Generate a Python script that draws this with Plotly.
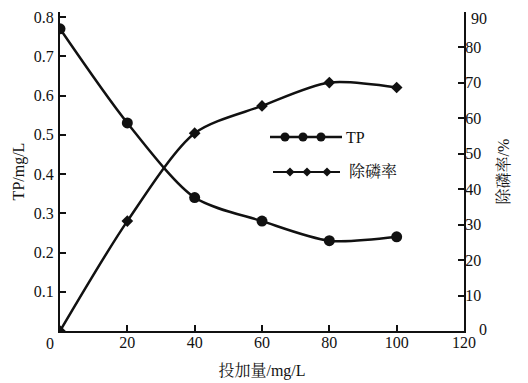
import plotly.graph_objects as go

# ---- data ----
dose = [0, 20, 40, 60, 80, 100]               # 投加量 mg/L
tp = [0.77, 0.53, 0.34, 0.28, 0.23, 0.24]      # TP mg/L
removal = [0, 31.0, 55.8, 63.5, 70.1, 68.7]    # 除磷率 %
x_ticks = [20, 40, 60, 80, 100, 120]
y1_ticks = [0.1, 0.2, 0.3, 0.4, 0.5, 0.6, 0.7, 0.8]
y2_ticks = [0, 10, 20, 30, 40, 50, 60, 70, 80, 90]
x_title = "投加量/mg/L"
y1_title = "TP/mg/L"
y2_title = "除磷率/%"
legend_names = ["TP", "除磷率"]

FONT = "Liberation Serif"
FONT_MIX = "Liberation Serif, Noto Serif CJK SC"
INK = "#111111"

fig = go.Figure()
fig.add_trace(go.Scatter(
    x=dose, y=tp, mode="lines+markers", name=legend_names[0],
    line=dict(color=INK, width=2.5, shape="spline", smoothing=0.8),
    marker=dict(symbol="circle", size=11, color=INK),
    xaxis="x", yaxis="y", showlegend=False))
fig.add_trace(go.Scatter(
    x=dose, y=removal, mode="lines+markers", name=legend_names[1],
    line=dict(color=INK, width=2.5, shape="spline", smoothing=0.8),
    marker=dict(symbol="diamond", size=9, color=INK),
    xaxis="x", yaxis="y2", showlegend=False))

# plot-area box in screen pixels (page has an 8px body margin)
OFF = 8
L = 60.0; R = 464.0; T = 12.0; B = 331.0
def px(x): return (x - L) / (R - L)
def py(y): return (B - y) / (B - T)

leg_rows = [
    dict(line=(270, 342), marks=(285, 303, 321), y=137, text_x=344,
         symbol="circle", size=9, width=2.5),
    dict(line=(273, 340), marks=(290, 307, 327), y=172, text_x=347,
         symbol="diamond", size=7, width=1.8),
]
for name, row in zip(legend_names, leg_rows):
    fig.add_shape(type="line", xref="paper", yref="paper",
                  x0=px(row["line"][0]), x1=px(row["line"][1]),
                  y0=py(row["y"]), y1=py(row["y"]),
                  line=dict(color=INK, width=row["width"]))
    fig.add_trace(go.Scatter(
        x=[px(m) for m in row["marks"]], y=[py(row["y"])] * 3,
        mode="markers", marker=dict(symbol=row["symbol"], size=row["size"], color=INK),
        xaxis="x3", yaxis="y3", showlegend=False, hoverinfo="skip"))
    fig.add_annotation(x=px(row["text_x"]), y=py(row["y"]), xref="paper", yref="paper",
                       text=name, showarrow=False, xanchor="left", yanchor="middle",
                       font=dict(family=FONT_MIX, size=16, color=INK))

# origin label
fig.add_annotation(x=px(50), y=py(343), xref="paper", yref="paper", text="0",
                   showarrow=False, xanchor="center", yanchor="middle",
                   font=dict(family=FONT, size=16, color=INK))
# top label of right axis (plotly drops it at the very top edge)
fig.add_annotation(x=px(469), y=y2_ticks[-1], xref="paper", yref="y2", text=str(y2_ticks[-1]),
                   showarrow=False, xanchor="left", yanchor="top", yshift=4,
                   font=dict(family=FONT, size=16, color=INK))
# right-aligned bottom label of right axis
fig.add_annotation(x=px(489), y=y2_ticks[0], xref="paper", yref="y2", text=str(y2_ticks[0]),
                   showarrow=False, xanchor="right", yanchor="middle", yshift=2,
                   font=dict(family=FONT, size=16, color=INK))

axis_common = dict(showgrid=False, zeroline=False, showline=True, linecolor=INK,
                   linewidth=2, ticks="inside", ticklen=6, tickwidth=1.5, tickcolor=INK,
                   automargin=False,
                   tickfont=dict(family=FONT, size=16, color=INK))

fig.update_layout(
    width=528, height=383,
    margin=dict(l=L - OFF, r=528 - (R - OFF), t=T - OFF, b=383 - (B - OFF), autoexpand=False),
    paper_bgcolor="white", plot_bgcolor="white",
    font=dict(family=FONT_MIX, color=INK),
    showlegend=False,
    xaxis=dict(range=[0, 120], tickvals=x_ticks, ticktext=[str(v) for v in x_ticks],
               ticklabelstandoff=-4,
               title=dict(text=x_title, standoff=15, font=dict(family=FONT_MIX, size=16, color=INK)),
               **axis_common),
    yaxis=dict(range=[0, 0.8 * (B - T) / (B - 17)], tickvals=y1_ticks,
               ticktext=[f"{v:.1f}" for v in y1_ticks], ticklabelstandoff=1,
               title=dict(text=y1_title, standoff=5, font=dict(family=FONT, size=16, color=INK)),
               **axis_common),
    yaxis2=dict(range=[0, 90], tickvals=y2_ticks,
                ticktext=[""] + [str(v) for v in y2_ticks[1:-1]] + [""],
                ticklabelstandoff=-4,
                overlaying="y", side="right", anchor="x",
                title=dict(text=y2_title, standoff=18, font=dict(family=FONT_MIX, size=16, color=INK)),
                **axis_common),
    xaxis3=dict(range=[0, 1], overlaying="x", visible=False),
    yaxis3=dict(range=[0, 1], overlaying="y", visible=False, anchor="x3"),
)

fig.write_html("out.html")
